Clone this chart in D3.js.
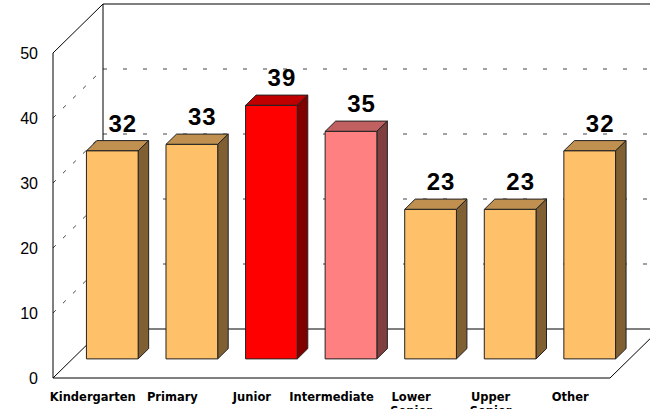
<!DOCTYPE html>
<html>
<head>
<meta charset="utf-8">
<script src="https://cdn.jsdelivr.net/npm/d3@7"></script>
<style>
body { margin: 0; background: #fff; }
svg { display: block; font-family: "Liberation Sans", Arial, sans-serif; }
</style>
</head>
<body>
<script>
var categories = ["Kindergarten", "Primary", "Junior", "Intermediate", "Lower Senior", "Upper Senior", "Other"];
var values = [32, 33, 39, 35, 23, 23, 32];
var tickValues = [0, 10, 20, 30, 40, 50];

var w = 650;
var h = 409;

// depth of the 3d box (back wall is shifted by ox, -oy)
var ox = 50;
var oy = 49;
var barFront = 0.39;
var barBack = 0.6;

var faces = {
	"Junior": ["#ff0000", "#c00000", "#800000"],
	"Intermediate": ["#ff8080", "#c06060", "#804040"],
	"default": ["#ffc06a", "#c09050", "#806033"]
};

var svg = d3.select("body")
	.append("svg")
	.attr("width", w)
	.attr("height", h);

var y = d3.scaleLinear().domain([0, 50]).range([378, 53]);
var x = d3.scaleBand().domain(categories).range([53, 610]).paddingInner(0.35).paddingOuter(0.175);
var xc = d3.scaleBand().domain(categories).range([53, 610]);

function P(px, v, d) {
	return [px + d * ox, y(v) - d * oy];
}

var line = d3.line();
var grid = svg.append("g");

// back wall + side wall dashed grid
grid.selectAll(".back")
	.data(tickValues.slice(1, 5))
	.enter()
	.append("path")
	.attr("d", function(d) { return line([P(53, d, 1), P(610, d, 1)]); })
	.attr("stroke", "#444")
	.attr("stroke-dasharray", "4,16")
	.attr("fill", "none");
grid.selectAll(".side")
	.data(tickValues.slice(1, 5))
	.enter()
	.append("path")
	.attr("d", function(d) { return line([P(53, d, 0), P(53, d, 1)]); })
	.attr("stroke", "#444")
	.attr("stroke-dasharray", "4,10")
	.attr("fill", "none");

// solid frame lines
var frame = [
	[P(53, 50, 1), P(610, 50, 1)],
	[P(53, 50, 1), P(53, 0, 1)],
	[P(53, 0, 1), P(610, 0, 1)],
	[P(53, 50, 0), P(53, 50, 1)],
	[P(53, 50, 0), P(53, 0, 0)],
	[P(53, 0, 0), P(610, 0, 0)],
	[P(53, 0, 0), P(53, 0, 1)],
	[P(610, 0, 0), P(610, 0, 1)]
];
grid.selectAll(".frame")
	.data(frame)
	.enter()
	.append("path")
	.attr("d", function(d) { return line(d); })
	.attr("stroke", "#000")
	.attr("stroke-width", 1)
	.attr("fill", "none");

// bars
var bars = svg.selectAll(".bar")
	.data(categories)
	.enter()
	.append("g");

function col(c, i) { return (faces[c] || faces["default"])[i]; }

bars.append("path")
	.attr("d", function(c, i) {
		var x0 = x(c), x1 = x(c) + x.bandwidth(), v = values[i];
		return line([P(x0, v, barFront), P(x1, v, barFront), P(x1, v, barBack), P(x0, v, barBack)]) + "Z";
	})
	.attr("fill", function(c) { return col(c, 1); })
	.attr("stroke", "#222");
bars.append("path")
	.attr("d", function(c, i) {
		var x1 = x(c) + x.bandwidth(), v = values[i];
		return line([P(x1, 0, barFront), P(x1, v, barFront), P(x1, v, barBack), P(x1, 0, barBack)]) + "Z";
	})
	.attr("fill", function(c) { return col(c, 2); })
	.attr("stroke", "#222");
bars.append("path")
	.attr("d", function(c, i) {
		var x0 = x(c), x1 = x(c) + x.bandwidth(), v = values[i];
		return line([P(x0, 0, barFront), P(x1, 0, barFront), P(x1, v, barFront), P(x0, v, barFront)]) + "Z";
	})
	.attr("fill", function(c) { return col(c, 0); })
	.attr("stroke", "#222");

// value labels, centred over the back of the bar top
bars.append("text")
	.text(function(c, i) { return values[i]; })
	.attr("x", function(c, i) { return P(x(c) + x.bandwidth() / 2, values[i], barBack)[0]; })
	.attr("y", function(c, i) { return P(0, values[i], barBack)[1] - 9; })
	.attr("text-anchor", "middle")
	.attr("font-size", 24)
	.attr("font-weight", "bold")
	.attr("letter-spacing", 1)
	.attr("fill", "#000");

// y axis labels
var yAxis = d3.axisLeft(y).tickValues(tickValues).tickSize(0).tickPadding(15);
svg.append("g")
	.attr("transform", "translate(53,0)")
	.call(yAxis)
	.call(function(g) {
		g.select(".domain").remove();
		g.selectAll("text").attr("font-size", 16).attr("font-family", "Liberation Sans, Arial, sans-serif").attr("fill", "#000");
	});

// category labels, wrapped on spaces
var labels = svg.selectAll(".cat")
	.data(categories)
	.enter()
	.append("text")
	.attr("text-anchor", "middle")
	.attr("font-family", "DejaVu Sans, sans-serif")
	.attr("font-size", 11.5)
	.attr("font-weight", "bold")
	.attr("fill", "#000");
labels.selectAll("tspan")
	.data(function(c) { return c.split(" ").map(function(s) { return [c, s]; }); })
	.enter()
	.append("tspan")
	.attr("x", function(d) { return xc(d[0]) + xc.bandwidth() / 2; })
	.attr("y", function(d, i) { return 401 + i * 14; })
	.text(function(d) { return d[1]; });
</script>
</body>
</html>
